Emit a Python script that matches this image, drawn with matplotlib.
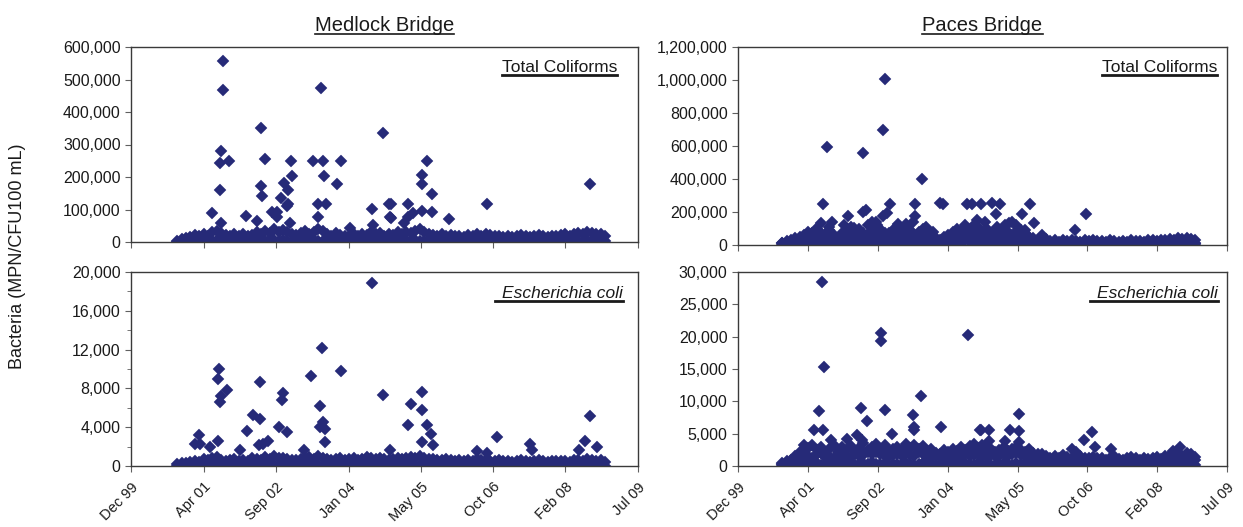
import numpy as np
import pandas as pd
import matplotlib
matplotlib.use('Agg')
import matplotlib.pyplot as plt
from matplotlib.ticker import FuncFormatter, MultipleLocator
from matplotlib.lines import Line2D

plt.rcParams['font.family'] = ['Liberation Sans', 'DejaVu Sans']

# sampling months (Oct 2000 - Nov 2008), x as decimal year
months = pd.period_range('2000-10', '2008-11', freq='M')
mx = np.array([m.year + (m.month - 0.5) / 12.0 for m in months])

tick_pos = [1999.92, 2001.29, 2002.66, 2004.03, 2005.40, 2006.76, 2008.13, 2009.50]
tick_lab = ['Dec 99', 'Apr 01', 'Sep 02', 'Jan 04', 'May 05', 'Oct 06', 'Feb 08', 'Jul 09']

# ---- Medlock Bridge, total coliforms (thousands)
mb_tc_hi = [4, 8, 12,
            15, 22, 18, 25, 20, 30, 35, 28, 22, 18, 24, 20,
            26, 18, 22, 30, 24, 35, 28, 40, 32, 38, 30, 26,
            22, 28, 34, 26, 30, 40, 35, 24, 20, 28, 22, 18,
            20, 24, 18, 26, 22, 30, 24, 28, 20, 25, 22, 30,
            26, 32, 28, 35, 40, 30, 26, 22, 18, 24, 20, 22,
            18, 20, 16, 22, 18, 24, 20, 25, 22, 18, 20, 16,
            18, 15, 20, 22, 18, 16, 20, 22, 18, 15, 18, 20,
            22, 25, 20, 24, 28, 26, 30, 28, 24, 26, 18]
mb_tc_lo = [1, 2, 1,
            3, 2, 5, 1, 4, 2, 6, 3, 2, 1, 4, 2,
            3, 5, 2, 4, 6, 3, 8, 5, 4, 6, 3, 2,
            4, 2, 5, 3, 6, 4, 2, 3, 5, 2, 4, 1,
            2, 3, 1, 4, 2, 5, 3, 2, 6, 3, 2, 4,
            3, 5, 2, 6, 4, 3, 5, 2, 3, 1, 2, 3,
            1, 2, 3, 1, 2, 4, 2, 1, 3, 2, 1, 2,
            2, 1, 3, 2, 1, 2, 3, 1, 2, 2, 1, 3,
            2, 3, 1, 4, 2, 3, 5, 2, 3, 4, 2]
mb_tc_x = [2001.66, 2001.66, 2001.63, 2001.60, 2001.60, 2001.77, 2001.45, 2001.63,
           2002.09, 2002.30, 2002.38, 2002.38, 2002.40, 2002.45, 2002.58, 2002.67,
           2002.75, 2002.81, 2002.89, 2002.89, 2002.92, 2002.94, 2002.97, 2002.86,
           2002.67, 2003.35, 2003.46, 2003.46, 2003.51, 2003.54, 2003.57, 2003.60,
           2003.81, 2003.89, 2004.06, 2004.48, 2004.50, 2004.69, 2004.80, 2004.81,
           2004.83, 2004.83, 2005.08, 2005.16, 2005.16, 2005.24, 2005.42, 2005.42,
           2005.42, 2005.52, 2005.61, 2005.61, 2005.92, 2006.65, 2008.59]
mb_tc_y = [557, 468, 281, 244, 160, 249, 88, 57,
           80, 65, 352, 173, 142, 254, 91, 91,
           134, 182, 160, 116, 57, 249, 204, 111,
           76, 249, 116, 76, 473, 249, 204, 116,
           178, 249, 42, 101, 52, 334, 116, 78,
           116, 75, 57, 116, 78, 88, 206, 178,
           96, 249, 147, 93, 70, 116, 178]

# ---- Paces Bridge, total coliforms (thousands)
pb_tc_hi = [15, 25, 30,
            40, 35, 60, 80, 50, 100, 70, 45, 90, 60, 40, 70,
            85, 110, 60, 95, 70, 120, 80, 140, 100, 75, 60, 90,
            110, 70, 130, 90, 60, 80, 100, 50, 70, 40, 30, 50,
            60, 80, 100, 70, 120, 90, 60, 110, 80, 100, 70, 60,
            90, 110, 80, 60, 120, 90, 70, 50, 40, 30, 60, 35,
            25, 30, 20, 28, 22, 30, 25, 20, 28, 24, 30, 22,
            25, 20, 28, 22, 18, 25, 20, 28, 22, 25, 20, 28,
            30, 25, 32, 28, 35, 30, 40, 35, 45, 38, 30]
pb_tc_mid = [10, 15, 20,
             25, 50, 30, 45, 70, 40, 55, 30, 60, 45, 35, 50,
             55, 40, 75, 50, 45, 65, 55, 90, 60, 45, 70, 40,
             65, 45, 80, 55, 35, 60, 45, 30, 55, 25, 20, 35,
             40, 55, 65, 45, 80, 50, 40, 70, 55, 65, 45, 40,
             60, 70, 50, 40, 75, 55, 45, 30, 25, 20, 35, 20,
             12, 15, 10, 14, 12, 16, 13, 10, 15, 12, 14, 10,
             12, 10, 14, 12, 9, 13, 11, 14, 10, 12, 10, 14,
             15, 12, 16, 14, 18, 15, 20, 18, 22, 19, 15]
pb_tc_lo = [3, 5, 4,
            8, 12, 6, 15, 10, 20, 9, 14, 18, 7, 12, 10,
            15, 22, 10, 18, 25, 12, 30, 20, 16, 24, 11, 14,
            20, 12, 25, 16, 10, 18, 22, 9, 14, 8, 6, 12,
            10, 16, 22, 12, 28, 18, 10, 24, 15, 20, 12, 9,
            18, 25, 14, 10, 22, 16, 12, 8, 6, 5, 9, 4,
            3, 5, 2, 4, 3, 6, 4, 2, 5, 3, 4, 2,
            3, 2, 4, 3, 2, 5, 3, 4, 2, 3, 2, 4,
            5, 3, 6, 4, 5, 3, 7, 5, 8, 6, 4]
pb_tc_x = [2002.80, 2002.77, 2001.66, 2002.36, 2003.53, 2001.59, 2002.90, 2003.39,
           2003.88, 2003.94, 2004.40, 2004.50, 2004.69, 2004.89, 2005.05, 2005.65,
           2002.36, 2002.43, 2002.77, 2002.83, 2003.39, 2002.08, 2001.76, 2001.55,
           2004.60, 2004.97, 2005.48, 2005.22, 2005.28, 2004.76, 2005.71, 2006.74,
           2006.52, 2001.45, 2001.70, 2002.00, 2002.20, 2002.55, 2002.65, 2003.05,
           2003.20, 2003.35, 2003.60, 2003.75, 2004.30, 2004.55, 2004.65, 2005.00,
           2005.15, 2005.40, 2005.55]
pb_tc_y = [1004, 697, 592, 556, 398, 248, 248, 248,
           255, 248, 248, 248, 248, 255, 248, 248,
           198, 212, 178, 192, 178, 178, 141, 131,
           152, 188, 188, 131, 141, 141, 131, 188,
           91, 95, 110, 120, 105, 140, 120, 130,
           100, 140, 110, 80, 90, 120, 100, 110,
           120, 100, 90]

# ---- Medlock Bridge, E. coli
mb_ec_hi = [200, 300, 350,
            400, 500, 450, 700, 600, 800, 900, 650, 550, 600, 700, 500,
            600, 550, 800, 700, 650, 900, 750, 1000, 850, 800, 700, 600,
            650, 700, 800, 900, 750, 1000, 850, 700, 600, 750, 800, 650,
            700, 800, 650, 750, 900, 800, 700, 850, 750, 650, 700, 800,
            750, 850, 900, 800, 1000, 850, 750, 700, 650, 600, 700, 650,
            550, 600, 500, 650, 550, 700, 600, 650, 550, 500, 600, 550,
            500, 450, 550, 600, 500, 450, 550, 600, 500, 450, 500, 550,
            500, 550, 450, 600, 650, 550, 700, 600, 550, 600, 450]
mb_ec_lo = [40, 60, 50,
            80, 120, 60, 150, 90, 200, 70, 110, 130, 50, 90, 70,
            100, 150, 80, 120, 180, 90, 220, 140, 110, 160, 80, 100,
            130, 90, 170, 110, 80, 120, 150, 70, 100, 60, 50, 90,
            80, 110, 150, 90, 190, 120, 80, 160, 100, 140, 90, 70,
            120, 170, 100, 80, 150, 110, 90, 60, 50, 40, 70, 40,
            30, 50, 25, 40, 30, 60, 40, 25, 50, 30, 40, 25,
            30, 25, 40, 30, 25, 50, 30, 40, 25, 30, 25, 40,
            50, 30, 60, 40, 50, 30, 70, 50, 80, 60, 40]
mb_ec_x = [2004.48, 2003.52, 2003.88, 2001.59, 2001.57, 2002.36, 2003.33, 2001.73,
           2001.63, 2001.60, 2004.68, 2002.80, 2002.78, 2003.50, 2002.23, 2002.36,
           2003.55, 2003.50, 2003.59, 2002.72, 2002.86, 2002.11, 2001.20, 2001.56,
           2001.13, 2001.22, 2003.59, 2002.51, 2002.42, 2002.33, 2003.18, 2001.98,
           2004.81, 2001.41, 2005.41, 2005.22, 2005.41, 2005.15, 2005.51, 2005.58,
           2005.41, 2005.63, 2006.45, 2006.83, 2007.46, 2007.49, 2008.59, 2008.50,
           2008.72, 2008.39, 2006.64]
mb_ec_y = [18870, 12170, 9760, 10000, 8970, 8660, 9310, 7800,
           7250, 6570, 7350, 7530, 6840, 6150, 5290, 4880,
           4540, 4020, 3850, 3990, 3500, 3570, 3230, 2610,
           2300, 2300, 2440, 2550, 2300, 2130, 1680, 1680,
           1680, 1960, 7630, 6420, 5800, 4190, 4260, 3330,
           2470, 2200, 1510, 2990, 2300, 1680, 5120, 2550,
           1960, 1620, 1300]

# ---- Paces Bridge, E. coli
pb_ec_hi = [300, 500, 600,
            900, 1200, 1000, 1500, 1300, 1800, 2000, 1400, 1600, 1200, 1500, 1300,
            1600, 1400, 1900, 1500, 1700, 2100, 1800, 2200, 1900, 1600, 1500, 1700,
            1800, 1500, 2000, 1700, 1600, 2200, 1900, 1500, 1300, 1600, 1400, 1200,
            1300, 1500, 1200, 1600, 1800, 1500, 1700, 1900, 1600, 1400, 1700, 1500,
            1600, 1800, 1500, 1900, 2000, 1700, 1500, 1300, 1100, 1200, 1000, 1100,
            900, 1000, 800, 1100, 900, 1200, 1500, 1100, 900, 800, 1000, 900,
            800, 700, 900, 1000, 800, 700, 900, 1000, 800, 700, 900, 800,
            900, 1000, 800, 1100, 1200, 1000, 1300, 1100, 1200, 1400, 1000]
pb_ec_mid = [500, 800, 900,
             1500, 2200, 1800, 2800, 3200, 2400, 3000, 2000, 2600, 3300, 2200, 2900,
             2500, 3100, 2200, 2800, 3500, 2400, 3000, 3400, 2600, 3200, 2300, 2700,
             3000, 2500, 3400, 2800, 3300, 2600, 3100, 2200, 2700, 2000, 1800, 2400,
             2100, 2600, 2300, 2900, 2400, 3100, 2500, 2800, 3300, 2400, 2700, 2200,
             2500, 2900, 2300, 2700, 3000, 2400, 2200, 2600, 2000, 1800, 1900, 1600,
             1300, 1500, 1200, 1700, 1400, 2600, 2200, 1500, 1300, 1200, 1400, 1300,
             1200, 1000, 1300, 1500, 1100, 1000, 1300, 1400, 1200, 1000, 1300, 1100,
             1200, 1400, 1100, 1500, 1700, 1300, 1800, 1500, 2000, 1900, 1400]
pb_ec_lo = [80, 120, 100,
            200, 300, 150, 400, 250, 500, 200, 350, 300, 150, 250, 200,
            300, 400, 200, 350, 450, 250, 550, 350, 300, 400, 200, 250,
            350, 250, 450, 300, 200, 350, 400, 200, 250, 150, 120, 200,
            200, 300, 400, 250, 500, 300, 200, 400, 250, 350, 200, 150,
            300, 450, 250, 200, 400, 300, 250, 150, 120, 100, 180, 100,
            80, 120, 60, 100, 80, 150, 100, 60, 120, 80, 100, 60,
            80, 60, 100, 80, 60, 120, 80, 100, 60, 80, 60, 100,
            120, 80, 150, 100, 120, 80, 180, 120, 200, 150, 100]
pb_ec_x = [2001.57, 2001.61, 2002.72, 2002.72, 2004.43, 2003.51, 2001.51, 2002.32,
           2002.80, 2002.45, 2003.34, 2003.37, 2003.37, 2003.89, 2001.40, 2001.59,
           2001.74, 2004.66, 2004.54, 2002.06, 2002.25, 2002.34, 2002.93, 2001.22,
           2004.69, 2004.84, 2005.43, 2005.24, 2005.43, 2004.84, 2005.15, 2005.43,
           2006.85, 2006.69, 2006.91, 2007.23, 2008.58, 2008.45]
pb_ec_y = [28450, 15260, 20570, 19280, 20210, 10780, 8460, 8970,
           8710, 6910, 7840, 6030, 5520, 5980, 5520, 5520,
           3970, 5520, 3450, 4230, 4850, 4070, 5000, 3300,
           5520, 5520, 8090, 5520, 5360, 3820, 3820, 3710,
           5210, 3970, 2940, 2630, 2940, 2270]

navy = '#262A78'

fig = plt.figure(figsize=(12.43, 5.27), dpi=100)
W, H = 1243.0, 527.0

def make_ax(l, r, t, b):
    return fig.add_axes([l / W, 1 - b / H, (r - l) / W, (b - t) / H])

ax_mt = make_ax(131, 638, 47, 242)
ax_pt = make_ax(738, 1227, 47, 245)
ax_mb = make_ax(131, 638, 272, 466)
ax_pb = make_ax(738, 1227, 272, 466)

panels = [
    (ax_mt, [mb_tc_lo, mb_tc_hi], mb_tc_x, mb_tc_y, 1000, 600000, 100000, None),
    (ax_pt, [pb_tc_lo, pb_tc_mid, pb_tc_hi], pb_tc_x, pb_tc_y, 1000, 1200000, 200000, None),
    (ax_mb, [mb_ec_lo, mb_ec_hi], mb_ec_x, mb_ec_y, 1, 20000, 4000, 2000),
    (ax_pb, [pb_ec_lo, pb_ec_mid, pb_ec_hi], pb_ec_x, pb_ec_y, 1, 30000, 5000, None),
]

fmt = FuncFormatter(lambda v, p: f'{v:,.0f}')

for ax, bands, ox, oy, mult, ymax, major, minor in panels:
    for b in bands:
        ax.plot(mx, np.array(b) * mult, 'D', ms=6.0, color=navy, mec=navy, mew=0.3, ls='none')
    ax.plot(ox, np.array(oy) * mult, 'D', ms=6.0, color=navy, mec=navy, mew=0.3, ls='none')
    ax.set_xlim(tick_pos[0], tick_pos[-1])
    ax.set_ylim(0, ymax)
    ax.yaxis.set_major_locator(MultipleLocator(major))
    if minor:
        ax.yaxis.set_minor_locator(MultipleLocator(minor))
        ax.tick_params(axis='y', which='minor', direction='out', length=3, color='#606060')
    ax.yaxis.set_major_formatter(fmt)
    ax.set_xticks(tick_pos)
    for s in ax.spines.values():
        s.set_color('#3a3a3a')
        s.set_linewidth(1.0)
    ax.tick_params(axis='both', which='major', direction='out', length=4,
                   color='#606060', labelsize=11.5, labelcolor='#1a1a1a')

for ax in (ax_mt, ax_pt):
    ax.set_xticklabels([])
for ax in (ax_mb, ax_pb):
    ax.set_xticklabels(tick_lab, rotation=45, ha='right', rotation_mode='anchor')
    ax.tick_params(axis='x', pad=6, labelsize=10.5)

fig.text(18 / W, 1 - 256 / H, 'Bacteria (MPN/CFU100 mL)', rotation=90,
         ha='center', va='center', fontsize=13, color='#1a1a1a')

# underlined labels: (text artist, extra px left of text, line width)
under = []
t = fig.text(384.5 / W, 1 - 31 / H, 'Medlock Bridge', ha='center', va='baseline', fontsize=14.5, color='#1a1a1a')
under.append((t, 0, 1.2))
t = fig.text(982.5 / W, 1 - 31 / H, 'Paces Bridge', ha='center', va='baseline', fontsize=14.5, color='#1a1a1a')
under.append((t, 0, 1.2))
t = ax_mt.text(0.9586, 0.872, 'Total Coliforms', transform=ax_mt.transAxes, ha='right', va='baseline', fontsize=12.5, color='#1a1a1a')
under.append((t, 0, 2.0))
t = ax_pt.text(0.9796, 0.874, 'Total Coliforms', transform=ax_pt.transAxes, ha='right', va='baseline', fontsize=12.5, color='#1a1a1a')
under.append((t, 0, 2.0))
t = ax_mb.text(0.970, 0.866, 'Escherichia coli', transform=ax_mb.transAxes, ha='right', va='baseline', fontsize=12.5, style='italic', color='#1a1a1a')
under.append((t, 7, 2.0))
t = ax_pb.text(0.9816, 0.866, 'Escherichia coli', transform=ax_pb.transAxes, ha='right', va='baseline', fontsize=12.5, style='italic', color='#1a1a1a')
under.append((t, 7, 2.0))

fig.canvas.draw()
r = fig.canvas.get_renderer()
for t, extra, lw in under:
    bb = t.get_window_extent(r)
    x0, y0 = t.get_transform().transform(t.get_position())
    yline = (y0 - 3) / (H)
    fig.add_artist(Line2D([(bb.x0 - extra) / W, bb.x1 / W], [yline, yline],
                          transform=fig.transFigure, color='#1a1a1a', lw=lw))

fig.savefig('out.png', dpi=100)
